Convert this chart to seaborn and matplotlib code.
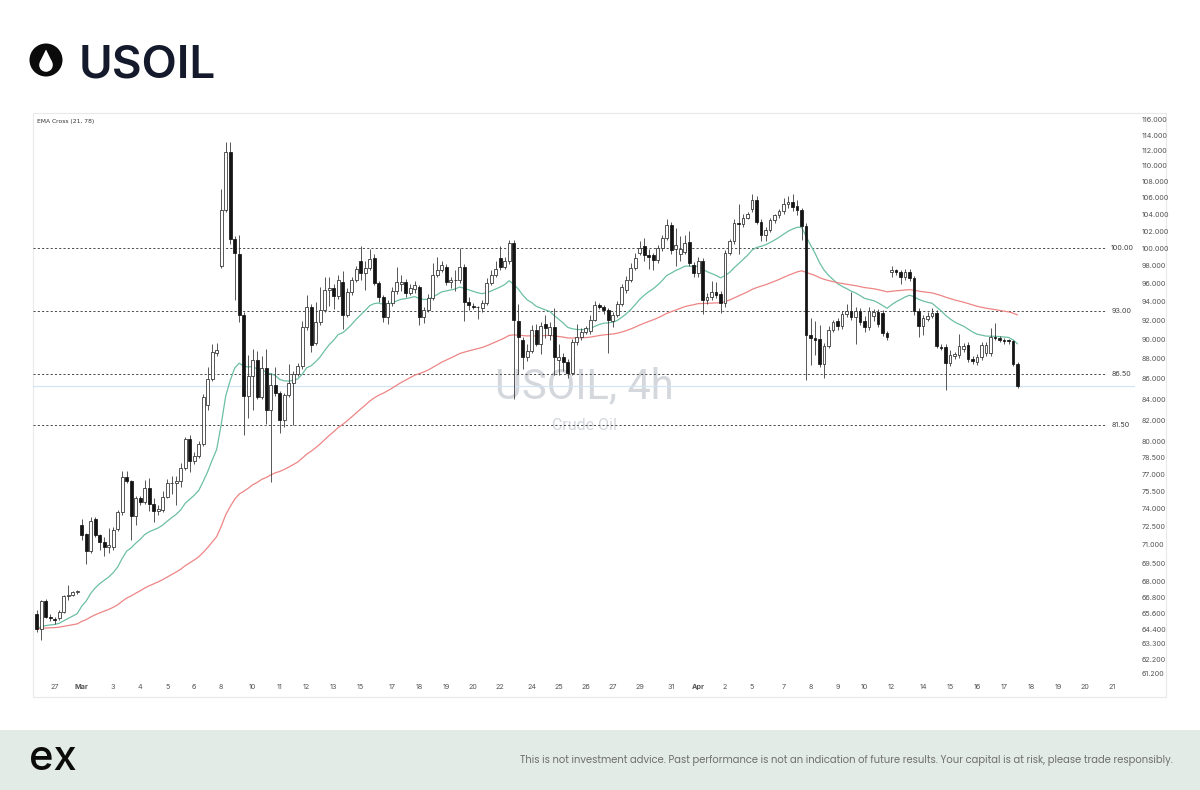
import numpy as np
import pandas as pd
import seaborn as sns
import matplotlib.pyplot as plt
from matplotlib.patches import Rectangle, Circle, Polygon
from matplotlib.ticker import NullLocator

sns.set_theme(style='white')
plt.rcParams['font.family'] = ['Inter', 'DejaVu Sans']

#%% data: USOIL 4h candles
opens = [65.5, 64.4, 66.5, 65.3, 65.15, 65.2, 65.7, 66.9, 67.0, 67.2,
         72.6, 71.9, 70.5, 73.1, 71.8, 71.2, 70.8, 70.8, 72.3, 73.7,
         76.8, 76.4, 73.4, 74.9, 74.6, 75.8, 74.4, 73.8, 73.9, 75.0,
         76.2, 76.2, 76.4, 77.6, 80.2, 78.2, 78.7, 79.8, 83.4, 86.0,
         88.6, 98.0, 104.5, 111.8, 101.1, 99.4, 92.6, 84.3, 86.3, 87.9,
         84.2, 87.1, 83.0, 85.4, 84.6, 82.0, 84.4, 85.6, 86.5, 87.3,
         91.3, 93.5, 89.6, 91.8, 93.1, 95.3, 95.5, 94.6, 96.2, 92.6,
         95.1, 96.4, 98.6, 97.2, 97.8, 98.9, 96.1, 94.5, 92.4, 93.9,
         95.2, 96.0, 96.2, 95.0, 95.4, 95.6, 92.4, 93.1, 94.4, 97.0,
         97.5, 97.9, 96.2, 96.4, 96.4, 97.9, 94.0, 93.6, 93.4, 93.3,
         93.9, 96.1, 97.0, 98.9, 97.9, 98.5, 100.6, 91.9, 90.0, 88.2,
         88.8, 91.0, 89.5, 91.6, 90.5, 91.3, 87.9, 88.2, 87.7, 86.6,
         89.7, 90.3, 90.8, 90.9, 92.1, 93.7, 93.5, 93.1, 92.0, 92.6,
         93.8, 95.3, 96.4, 97.8, 99.5, 100.3, 99.2, 99.2, 98.7, 100.0,
         101.2, 102.7, 99.9, 99.4, 99.6, 100.7, 98.1, 97.2, 98.5, 94.2,
         94.5, 95.1, 94.9, 93.9, 99.5, 100.8, 103.0, 102.8, 103.6, 104.6,
         105.8, 103.1, 101.6, 102.2, 103.3, 103.9, 104.4, 105.3, 105.5, 105.0,
         104.5, 102.6, 90.5, 90.2, 90.1, 87.5, 89.3, 91.0, 91.9, 91.4,
         92.7, 93.0, 92.4, 93.0, 92.0, 91.3, 92.5, 92.9, 92.8, 90.7,
         97.3, 97.5, 97.3, 96.7, 97.3, 96.6, 93.0, 91.4, 92.2, 92.5,
         92.8, 89.2, 89.2, 87.6, 88.3, 88.4, 89.0, 89.4, 88.0, 87.7,
         88.2, 88.6, 88.6, 90.3, 90.2, 90.0, 89.9, 89.8, 87.5]
highs = [65.8, 66.6, 66.7, 65.5, 65.3, 65.8, 67.0, 67.8, 67.3, 67.4,
         73.1, 72.0, 73.3, 73.3, 71.9, 71.6, 72.4, 72.5, 73.9, 77.3,
         77.3, 76.5, 75.1, 75.1, 76.5, 76.7, 74.9, 74.3, 75.5, 76.6,
         76.9, 76.9, 78.0, 80.4, 80.6, 79.0, 80.0, 84.5, 87.2, 89.5,
         89.6, 107.1, 113.1, 113.1, 101.5, 101.6, 92.9, 88.4, 89.0, 88.8,
         88.3, 89.0, 86.6, 87.2, 84.8, 84.6, 87.5, 86.8, 87.6, 92.0,
         94.7, 93.8, 94.0, 95.6, 96.7, 96.8, 96.0, 97.0, 97.4, 95.5,
         96.8, 98.0, 100.3, 98.5, 99.9, 99.4, 96.3, 94.7, 94.2, 95.6,
         97.9, 97.0, 96.5, 96.0, 96.3, 95.8, 93.4, 94.9, 98.3, 99.0,
         98.5, 98.2, 96.8, 97.5, 100.0, 98.2, 94.5, 93.9, 93.6, 94.2,
         96.6, 97.5, 98.5, 100.3, 99.0, 101.0, 101.0, 93.8, 90.3, 89.5,
         91.5, 91.6, 91.8, 92.6, 91.8, 93.3, 89.5, 88.6, 88.0, 90.1,
         91.6, 91.2, 91.4, 92.6, 94.1, 93.9, 93.7, 93.3, 92.9, 94.1,
         96.0, 96.9, 98.3, 99.5, 100.8, 101.2, 99.9, 99.5, 100.4, 101.6,
         103.5, 103.1, 102.4, 101.5, 101.6, 102.0, 98.4, 99.0, 98.9, 95.0,
         96.3, 96.2, 95.2, 99.8, 101.1, 103.5, 105.3, 104.0, 104.3, 106.5,
         106.2, 103.4, 102.5, 103.6, 104.1, 104.7, 106.0, 106.2, 106.5, 105.8,
         104.8, 103.0, 92.3, 91.9, 91.5, 89.6, 91.4, 92.1, 92.3, 93.0,
         93.8, 95.1, 93.4, 93.3, 92.5, 93.4, 93.2, 93.2, 93.1, 90.9,
         98.0, 97.7, 97.5, 97.6, 97.6, 96.9, 93.3, 92.6, 92.9, 93.3,
         93.1, 89.5, 89.5, 88.9, 88.7, 90.6, 89.6, 89.7, 88.3, 88.5,
         89.7, 89.7, 91.2, 91.7, 90.4, 90.2, 90.1, 90.0, 87.7]
lows = [64.2, 63.6, 65.2, 65.0, 64.8, 65.1, 65.6, 66.6, 66.9, 67.1,
        71.4, 69.4, 70.3, 71.6, 70.6, 70.1, 70.3, 70.6, 72.1, 73.5,
        76.2, 71.4, 72.6, 74.3, 74.4, 73.8, 72.9, 73.5, 73.7, 74.9,
        75.3, 74.3, 75.9, 77.4, 77.2, 77.9, 78.5, 79.6, 83.0, 85.8,
        88.3, 97.8, 104.3, 100.5, 94.2, 91.8, 80.6, 82.2, 83.0, 84.0,
        84.0, 81.6, 76.3, 84.3, 80.8, 81.3, 84.2, 81.5, 86.3, 87.0,
        91.0, 88.7, 89.4, 91.5, 92.9, 93.6, 93.2, 94.3, 91.1, 92.4,
        94.8, 96.2, 96.4, 95.3, 97.5, 95.9, 94.0, 91.8, 91.6, 93.6,
        94.9, 95.2, 94.5, 94.7, 95.0, 91.5, 91.7, 92.9, 94.2, 96.7,
        97.3, 95.8, 95.5, 95.2, 96.1, 92.0, 93.1, 93.2, 92.2, 92.9,
        93.7, 95.8, 96.7, 97.5, 97.6, 98.2, 84.0, 86.5, 87.0, 87.8,
        88.6, 89.3, 88.5, 90.2, 90.0, 86.4, 86.4, 86.8, 86.1, 86.4,
        89.4, 90.0, 90.6, 90.6, 92.0, 93.2, 92.7, 88.6, 91.3, 92.4,
        93.6, 95.0, 96.2, 97.5, 99.2, 98.6, 97.6, 97.5, 98.3, 99.7,
        101.0, 99.4, 98.0, 98.6, 99.3, 98.0, 96.8, 96.8, 92.7, 93.8,
        94.2, 94.4, 92.8, 93.5, 99.2, 100.5, 99.3, 102.5, 103.4, 104.3,
        102.8, 100.9, 100.8, 101.9, 103.0, 103.6, 104.0, 104.8, 104.4, 103.9,
        101.0, 85.9, 87.4, 88.4, 87.2, 86.1, 89.1, 90.8, 91.0, 91.1,
        92.4, 92.1, 89.5, 91.5, 90.8, 91.0, 92.0, 91.3, 90.4, 89.9,
        96.8, 97.0, 96.0, 96.4, 96.3, 92.6, 90.3, 90.5, 91.9, 92.3,
        89.1, 88.9, 84.9, 87.3, 88.0, 88.1, 88.7, 87.7, 87.5, 87.4,
        87.9, 88.3, 88.3, 89.9, 89.7, 89.5, 89.5, 87.3, 85.1]
closes = [64.4, 66.5, 65.3, 65.2, 65.1, 65.7, 66.9, 66.95, 67.2, 67.3,
          71.8, 70.5, 73.0, 71.8, 71.2, 70.8, 70.95, 72.2, 73.7, 76.8,
          76.4, 73.4, 74.9, 74.6, 75.8, 74.4, 73.8, 74.0, 75.0, 76.2,
          76.25, 76.4, 77.6, 80.2, 78.2, 78.7, 79.8, 84.2, 86.0, 88.7,
          88.9, 104.5, 111.8, 101.1, 99.5, 92.6, 84.3, 86.3, 87.9, 84.2,
          87.1, 83.0, 85.4, 84.6, 82.0, 84.4, 85.6, 86.5, 87.3, 91.3,
          93.5, 89.4, 91.8, 93.1, 95.3, 95.5, 94.6, 96.4, 92.6, 95.1,
          96.4, 97.6, 97.2, 97.8, 98.8, 96.1, 94.5, 92.4, 93.9, 95.2,
          96.2, 96.2, 95.0, 95.5, 95.8, 92.4, 93.1, 94.4, 97.0, 97.5,
          98.1, 96.2, 96.4, 96.45, 97.9, 94.0, 93.7, 93.5, 93.4, 93.9,
          96.1, 97.0, 97.6, 97.9, 98.5, 100.6, 92.1, 90.3, 88.2, 88.8,
          91.0, 89.5, 91.4, 91.2, 91.3, 88.2, 88.2, 87.7, 86.6, 89.7,
          90.3, 90.8, 91.2, 92.1, 93.7, 93.5, 93.1, 92.1, 92.6, 93.8,
          95.6, 96.4, 97.8, 98.9, 100.1, 99.2, 99.0, 98.7, 100.0, 101.2,
          102.7, 99.8, 100.4, 99.9, 100.6, 98.3, 97.2, 98.5, 94.2, 94.5,
          95.1, 94.8, 93.9, 99.5, 100.8, 103.0, 102.8, 103.6, 104.0, 105.8,
          103.1, 101.6, 102.2, 103.3, 103.9, 104.4, 105.3, 105.5, 104.9, 104.5,
          102.6, 90.5, 90.2, 90.0, 87.5, 89.3, 91.0, 91.8, 91.4, 92.7,
          93.0, 92.4, 93.0, 91.8, 91.3, 93.0, 92.9, 91.6, 90.7, 90.3,
          97.5, 97.3, 96.7, 97.3, 96.6, 93.0, 91.4, 92.3, 92.5, 92.8,
          89.3, 89.15, 87.6, 88.4, 88.5, 89.3, 89.3, 88.0, 87.8, 88.2,
          89.4, 89.4, 90.3, 90.2, 90.0, 89.8, 89.8, 87.5, 85.3]

day_labels = ['27', 'Mar', '3', '4', '5', '6', '8', '10', '11', '12', '13', '15', '17',
              '18', '19', '20', '22', '24', '25', '26', '27', '29', '31', 'Apr', '2', '5',
              '7', '8', '9', '10', '12', '14', '15', '16', '17', '18', '19', '20', '21']
day_starts = [4, 10, 17, 23, 29, 35, 41, 48, 54, 60, 66, 72, 79, 85, 91, 97, 103, 110,
              116, 122, 128, 134, 141, 147, 153, 159, 166, 172, 178, 184, 190, 197, 203,
              209, 215, 221, 227, 233, 239]
price_ticks = [116, 114, 112, 110, 108, 106, 104, 102, 100, 98, 96, 94, 92, 90, 88, 86,
               84, 82, 80, 78.5, 77, 75.5, 74, 72.5, 71, 69.5, 68, 66.8, 65.6, 64.4,
               63.3, 62.2, 61.2]
levels = [100, 93, 86.5, 81.5]

#%% frame
df = pd.DataFrame({'open': opens, 'high': highs, 'low': lows, 'close': closes})
df['idx'] = np.arange(len(df))
df['ema21'] = df['close'].ewm(span=21, adjust=False).mean()
df['ema78'] = df['close'].ewm(span=78, adjust=False).mean()
up = df['close'] >= df['open']

W, H = 1200, 790
fig = plt.figure(figsize=(W / 100, H / 100), dpi=100)
fig.patch.set_facecolor('white')

# background decoration in pixel units
deco = fig.add_axes([0, 0, 1, 1], zorder=0)
deco.set_xlim(0, W)
deco.set_ylim(H, 0)
deco.axis('off')
deco.add_patch(Rectangle((0, 730), W, 60, facecolor='#e2ebe5', edgecolor='none'))
deco.add_patch(Rectangle((33, 113), 1133, 584, facecolor='none', edgecolor='#e9e9e9', lw=0.8))
deco.add_patch(Circle((46, 60), 16.5, facecolor='#0b0b0b', edgecolor='none'))
deco.add_patch(Circle((46, 65), 6.8, facecolor='white', edgecolor='none'))
deco.add_patch(Polygon([(46, 49.5), (39.6, 62.5), (52.4, 62.5)], closed=True,
                       facecolor='white', edgecolor='none'))
deco.text(79, 78, 'USOIL', fontsize=33, fontweight='semibold', color='#141a2b',
          va='baseline', ha='left')
deco.text(29, 770, 'ex', fontsize=30, fontweight='medium', color='#0b0b0b',
          va='baseline', ha='left')
deco.text(1173, 763, 'This is not investment advice. Past performance is not an indication '
          'of future results. Your capital is at risk, please trade responsibly.',
          fontsize=7.2, color='#6e6e6e', ha='right', va='baseline',
          family=['Poppins', 'Open Sans', 'DejaVu Sans'])

#%% chart
ax = fig.add_axes([33 / W, 1 - 678 / H, (1135 - 33) / W, (678 - 113) / H], zorder=1)
ax.patch.set_alpha(0)
ax.set_yscale('log')
ax.set_ylim(116 * np.exp(-558 / 865), 116 * np.exp(7 / 865))
ax.set_xlim(-0.82, 244.1)

# watermark
ax.text(0.5, 0.515, 'USOIL, 4h', transform=ax.transAxes, fontsize=30, color='#d4d7dc',
        ha='center', va='center', family=['Roboto', 'DejaVu Sans'], zorder=0)
ax.text(0.5, 0.447, 'Crude Oil', transform=ax.transAxes, fontsize=11.5, color='#d4d7dc',
        ha='center', va='center', family=['Roboto', 'DejaVu Sans'], zorder=0)

# horizontal levels
for lv in levels:
    ax.hlines(lv, -0.82, 237.5, colors='#4a4a4a', linestyles=(0, (2.2, 2.2)), lw=0.7, zorder=1)
    ax.text(238.8, lv, '%.2f' % lv, fontsize=5.2, color='#444444', va='center', ha='left')
ax.axhline(df['close'].iloc[-1], color='#d3e4f3', lw=0.9, zorder=1)

# EMA cross
sns.lineplot(data=df, x='idx', y='ema21', ax=ax, color='#6cbfa6', lw=0.9, zorder=2)
sns.lineplot(data=df, x='idx', y='ema78', ax=ax, color='#ee8585', lw=0.9, zorder=2)

# candles
ax.vlines(df['idx'], df['low'], df['high'], colors='#3a3a3a', lw=0.6, zorder=3)
body_lo = df[['open', 'close']].min(axis=1)
body_hi = df[['open', 'close']].max(axis=1)
ax.bar(df['idx'][up], (body_hi - body_lo)[up], bottom=body_lo[up], width=0.62,
       color='white', edgecolor='#2a2a2a', linewidth=0.55, zorder=4)
ax.bar(df['idx'][~up], (body_hi - body_lo)[~up], bottom=body_lo[~up], width=0.62,
       color='#141414', edgecolor='#141414', linewidth=0.55, zorder=4)

ax.text(0.004, 0.99, 'EMA Cross (21, 78)', transform=ax.transAxes, fontsize=4.3,
        color='#333333', va='top', ha='left', family=['DejaVu Sans'])

# axes cosmetics
ax.yaxis.tick_right()
ax.yaxis.set_minor_locator(NullLocator())
ax.set_yticks(price_ticks)
ax.set_yticklabels(['%.3f' % t for t in price_ticks])
ax.set_xticks(day_starts)
ax.set_xticklabels(day_labels)
for t in ax.get_xticklabels():
    if t.get_text() in ('Mar', 'Apr'):
        t.set_fontweight('bold')
ax.tick_params(axis='y', length=0, pad=5, labelsize=5.2, colors='#555555')
ax.tick_params(axis='x', length=0, pad=4, labelsize=5.2, colors='#555555')
ax.set(xlabel='', ylabel='')
for s in ax.spines.values():
    s.set_visible(False)

fig.savefig('out.png', dpi=100, facecolor='white')
